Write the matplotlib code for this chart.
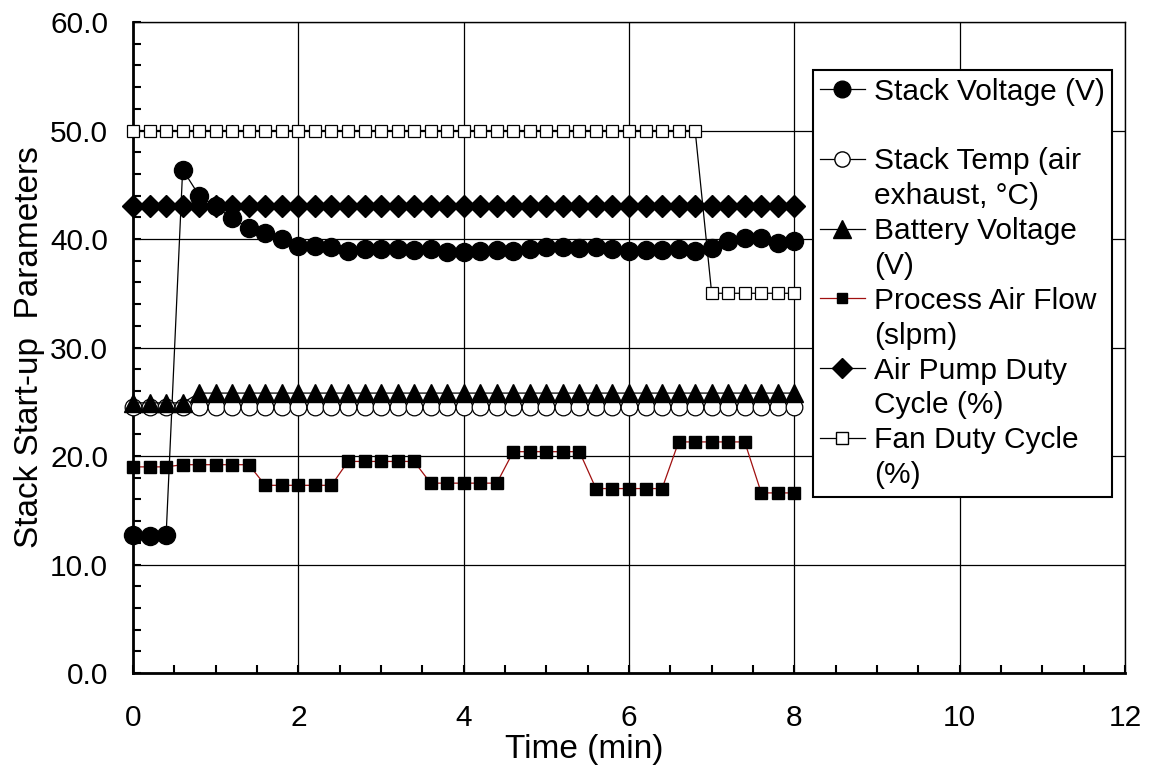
import matplotlib
matplotlib.use("Agg")
import matplotlib.pyplot as plt
from matplotlib.lines import Line2D
from matplotlib.ticker import MultipleLocator, FormatStrFormatter

plt.rcParams['font.family'] = ['Liberation Sans', 'DejaVu Sans']

# time in minutes (sampled every 0.2 min)
time_min = [0.0, 0.2, 0.4, 0.6, 0.8, 1.0, 1.2, 1.4, 1.6, 1.8,
            2.0, 2.2, 2.4, 2.6, 2.8, 3.0, 3.2, 3.4, 3.6, 3.8,
            4.0, 4.2, 4.4, 4.6, 4.8, 5.0, 5.2, 5.4, 5.6, 5.8,
            6.0, 6.2, 6.4, 6.6, 6.8, 7.0, 7.2, 7.4, 7.6, 7.8, 8.0]

stack_voltage = [12.7, 12.6, 12.7, 46.4, 44.0, 43.0, 41.9, 41.0, 40.6, 40.0,
                 39.4, 39.4, 39.3, 38.9, 39.1, 39.1, 39.1, 39.0, 39.1, 38.8,
                 38.8, 38.9, 39.0, 38.9, 39.1, 39.3, 39.3, 39.2, 39.3, 39.1,
                 38.9, 39.0, 39.0, 39.1, 38.9, 39.2, 39.8, 40.1, 40.1, 39.6, 39.8]

stack_temp = [24.5] * 41

battery_voltage = [24.9, 24.9, 24.9, 24.9] + [25.8] * 37

process_air = [19.0, 19.0, 19.0,
               19.2, 19.2, 19.2, 19.2, 19.2,
               17.3, 17.3, 17.3, 17.3, 17.3,
               19.5, 19.5, 19.5, 19.5, 19.5,
               17.5, 17.5, 17.5, 17.5, 17.5,
               20.4, 20.4, 20.4, 20.4, 20.4,
               17.0, 17.0, 17.0, 17.0, 17.0,
               21.3, 21.3, 21.3, 21.3, 21.3,
               16.6, 16.6, 16.6]

air_pump_duty = [43.0] * 41

fan_duty = [50.0] * 35 + [35.0] * 6

fig = plt.figure(figsize=(11.53, 7.72), dpi=100)
ax = fig.add_axes([0.1154, 0.1282, 0.8603, 0.8433])

ax.plot(time_min, stack_voltage, color='black', lw=0.9, marker='o', ms=13,
        mfc='black', mec='black', clip_on=False, zorder=3)
ax.plot(time_min, stack_temp, color='black', lw=0.9, marker='o', ms=12,
        mfc='white', mec='black', mew=0.9, clip_on=False, zorder=3)
ax.plot(time_min, battery_voltage, color='black', lw=0.9, marker='^', ms=13,
        mfc='black', mec='black', clip_on=False, zorder=3)
ax.plot(time_min, process_air, color='#a01010', lw=0.9, marker='s', ms=9,
        mfc='black', mec='black', clip_on=False, zorder=3)
ax.plot(time_min, air_pump_duty, color='black', lw=0.9, marker='D', ms=11.5,
        mfc='black', mec='black', clip_on=False, zorder=3)
ax.plot(time_min, fan_duty, color='black', lw=0.9, marker='s', ms=8.5,
        mfc='white', mec='black', mew=0.9, clip_on=False, zorder=3)

ax.set_xlim(0, 12)
ax.set_ylim(0, 60)
ax.xaxis.set_major_locator(MultipleLocator(2))
ax.xaxis.set_minor_locator(MultipleLocator(0.5))
ax.yaxis.set_major_locator(MultipleLocator(10))
ax.yaxis.set_minor_locator(MultipleLocator(2))
ax.yaxis.set_major_formatter(FormatStrFormatter('%.1f'))

ax.grid(True, which='major', color='black', linewidth=0.9)
ax.set_axisbelow(True)
for sp in ax.spines.values():
    sp.set_linewidth(1.0)
ax.spines['left'].set_linewidth(2)
ax.spines['bottom'].set_linewidth(2)

ax.tick_params(which='both', direction='in', top=False, right=False,
               length=6, width=1.5, labelsize=21.5)
ax.tick_params(axis='x', which='major', pad=22)
ax.tick_params(axis='y', which='major', pad=18)

ax.set_xlabel('Time (min)', fontsize=24)
ax.xaxis.set_label_coords(0.4546, -0.0937)
ax.set_ylabel('Stack Start-up  Parameters', fontsize=24, labelpad=4)

blank = Line2D([], [], color='none')
handles = [
    Line2D([], [], color='black', lw=0.9, marker='o', ms=12, mfc='black', mec='black'), blank,
    Line2D([], [], color='black', lw=0.9, marker='o', ms=11, mfc='white', mec='black'), blank,
    Line2D([], [], color='black', lw=0.9, marker='^', ms=13, mfc='black', mec='black'), blank,
    Line2D([], [], color='#a01010', lw=0.9, marker='s', ms=7.5, mfc='black', mec='black'), blank,
    Line2D([], [], color='black', lw=0.9, marker='D', ms=10, mfc='black', mec='black'), blank,
    Line2D([], [], color='black', lw=0.9, marker='s', ms=8, mfc='white', mec='black'), blank,
]
labels = ['Stack Voltage (V)', ' ',
          'Stack Temp (air', 'exhaust, \u00b0C)',
          'Battery Voltage', '(V)',
          'Process Air Flow', '(slpm)',
          'Air Pump Duty', 'Cycle (%)',
          'Fan Duty Cycle', '(%)']
leg = ax.legend(handles, labels, loc='upper right', bbox_to_anchor=(0.987, 0.926),
                fontsize=21.5, frameon=True, fancybox=False, framealpha=1,
                edgecolor='black', borderpad=0.25, labelspacing=0.23,
                handlelength=1.5, handletextpad=0.3, borderaxespad=0)
leg.get_frame().set_linewidth(1.5)
leg.set_zorder(5)

fig.savefig('out.png', dpi=100)
